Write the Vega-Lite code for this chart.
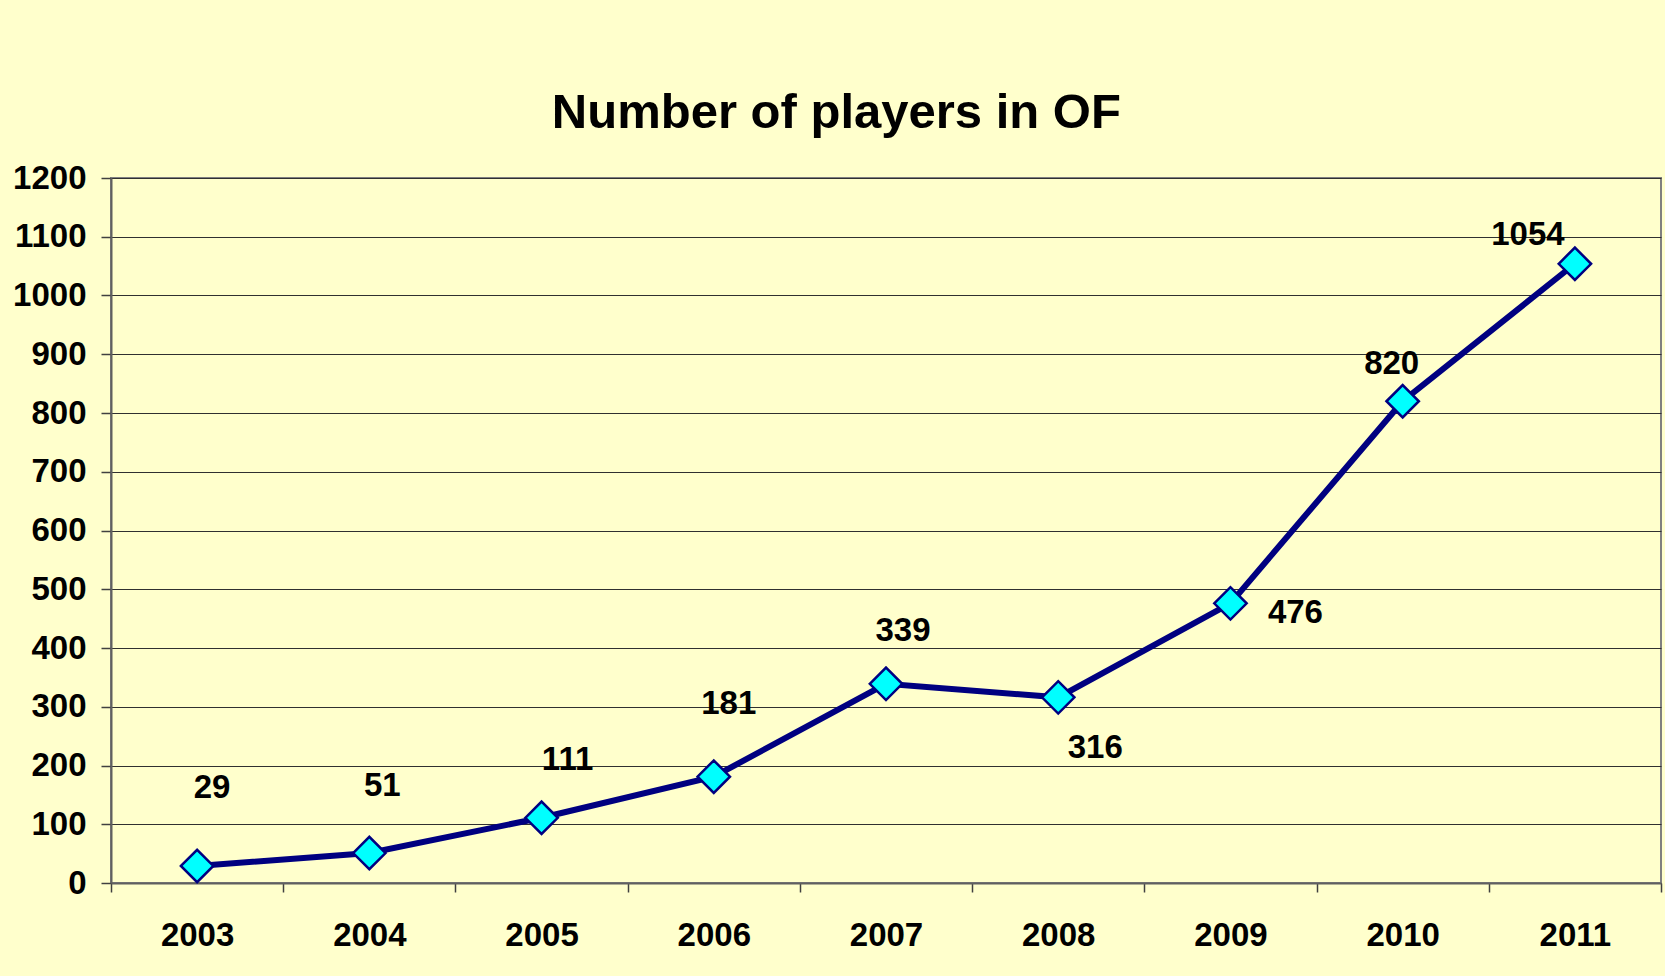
{
  "$schema": "https://vega.github.io/schema/vega-lite/v6.json",
  "width": 1665,
  "height": 976,
  "autosize": {"type": "fit", "contains": "padding"},
  "padding": {"left": 11, "top": 89, "right": 3, "bottom": 24},
  "background": "#FFFFCC",
  "title": {
    "text": "Number of players in OF",
    "anchor": "middle",
    "frame": "bounds",
    "font": "Liberation Sans",
    "fontSize": 49,
    "fontWeight": "bold",
    "color": "#000000",
    "offset": 24
  },
  "config": {
    "view": {"stroke": "#808080", "strokeWidth": 2, "fill": "#FFFFCC"},
    "font": "Liberation Sans"
  },
  "data": {
    "values": [
      {"year": "2003", "players": 29},
      {"year": "2004", "players": 51},
      {"year": "2005", "players": 111},
      {"year": "2006", "players": 181},
      {"year": "2007", "players": 339},
      {"year": "2008", "players": 316},
      {"year": "2009", "players": 476},
      {"year": "2010", "players": 820},
      {"year": "2011", "players": 1054}
    ]
  },
  "encoding": {
    "x": {
      "field": "year",
      "type": "ordinal",
      "scale": {"paddingInner": 0, "paddingOuter": 0},
      "axis": {
        "title": null,
        "labelAngle": 0,
        "labelFont": "Liberation Sans",
        "labelFontSize": 33,
        "labelFontWeight": "bold",
        "labelColor": "#000000",
        "labelPadding": 27,
        "labelBaseline": "top",
        "tickBand": "extent",
        "tickSize": 9,
        "tickColor": "#404040",
        "tickWidth": 1.5,
        "domainColor": "#606060",
        "domainWidth": 2,
        "grid": false,
        "minExtent": 69,
        "maxExtent": 69
      }
    },
    "y": {
      "field": "players",
      "type": "quantitative",
      "scale": {"domain": [0, 1200], "nice": false},
      "axis": {
        "title": null,
        "format": "d",
        "values": [0, 100, 200, 300, 400, 500, 600, 700, 800, 900, 1000, 1100, 1200],
        "labelFont": "Liberation Sans",
        "labelFontSize": 33,
        "labelFontWeight": "bold",
        "labelColor": "#000000",
        "labelPadding": 15,
        "tickSize": 10,
        "tickColor": "#404040",
        "tickWidth": 1.5,
        "domainColor": "#606060",
        "domainWidth": 2,
        "grid": true,
        "gridColor": "#303030",
        "gridWidth": 1,
        "minExtent": 100,
        "maxExtent": 100
      }
    }
  },
  "layer": [
    {
      "mark": {"type": "line", "color": "#000080", "strokeWidth": 6}
    },
    {
      "mark": {"type": "point", "shape": "diamond", "filled": true, "fill": "#00FFFF", "stroke": "#000080", "strokeWidth": 2.5, "size": 1050, "opacity": 1}
    },
    {
      "transform": [{"filter": "datum.year == '2003'"}],
      "mark": {"type": "text", "font": "Liberation Sans", "fontSize": 33, "fontWeight": "bold", "color": "#000000", "align": "center", "baseline": "middle", "dx": 15, "dy": -78},
      "encoding": {"text": {"field": "players", "type": "quantitative"}}
    },
    {
      "transform": [{"filter": "datum.year == '2004'"}],
      "mark": {"type": "text", "font": "Liberation Sans", "fontSize": 33, "fontWeight": "bold", "color": "#000000", "align": "center", "baseline": "middle", "dx": 13, "dy": -67},
      "encoding": {"text": {"field": "players", "type": "quantitative"}}
    },
    {
      "transform": [{"filter": "datum.year == '2005'"}],
      "mark": {"type": "text", "font": "Liberation Sans", "fontSize": 33, "fontWeight": "bold", "color": "#000000", "align": "center", "baseline": "middle", "dx": 26, "dy": -58},
      "encoding": {"text": {"field": "players", "type": "quantitative"}}
    },
    {
      "transform": [{"filter": "datum.year == '2006'"}],
      "mark": {"type": "text", "font": "Liberation Sans", "fontSize": 33, "fontWeight": "bold", "color": "#000000", "align": "center", "baseline": "middle", "dx": 15, "dy": -73},
      "encoding": {"text": {"field": "players", "type": "quantitative"}}
    },
    {
      "transform": [{"filter": "datum.year == '2007'"}],
      "mark": {"type": "text", "font": "Liberation Sans", "fontSize": 33, "fontWeight": "bold", "color": "#000000", "align": "center", "baseline": "middle", "dx": 17, "dy": -53},
      "encoding": {"text": {"field": "players", "type": "quantitative"}}
    },
    {
      "transform": [{"filter": "datum.year == '2008'"}],
      "mark": {"type": "text", "font": "Liberation Sans", "fontSize": 33, "fontWeight": "bold", "color": "#000000", "align": "center", "baseline": "middle", "dx": 37, "dy": 51},
      "encoding": {"text": {"field": "players", "type": "quantitative"}}
    },
    {
      "transform": [{"filter": "datum.year == '2009'"}],
      "mark": {"type": "text", "font": "Liberation Sans", "fontSize": 33, "fontWeight": "bold", "color": "#000000", "align": "center", "baseline": "middle", "dx": 65, "dy": 10},
      "encoding": {"text": {"field": "players", "type": "quantitative"}}
    },
    {
      "transform": [{"filter": "datum.year == '2010'"}],
      "mark": {"type": "text", "font": "Liberation Sans", "fontSize": 33, "fontWeight": "bold", "color": "#000000", "align": "center", "baseline": "middle", "dx": -11, "dy": -37},
      "encoding": {"text": {"field": "players", "type": "quantitative"}}
    },
    {
      "transform": [{"filter": "datum.year == '2011'"}],
      "mark": {"type": "text", "font": "Liberation Sans", "fontSize": 33, "fontWeight": "bold", "color": "#000000", "align": "center", "baseline": "middle", "dx": -47, "dy": -29},
      "encoding": {"text": {"field": "players", "type": "quantitative"}}
    }
  ]
}
